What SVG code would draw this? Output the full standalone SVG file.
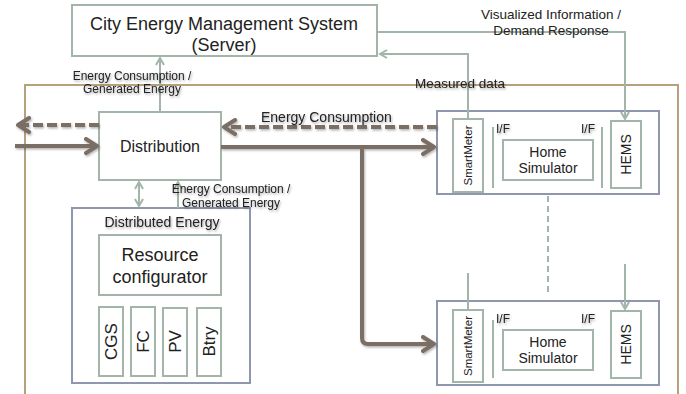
<svg xmlns="http://www.w3.org/2000/svg" width="686" height="394" viewBox="0 0 686 394">
<style>
text{font-family:"Liberation Sans",Arial,sans-serif;fill:#222}
.gbox{fill:#fff;stroke:#a3b5a8;stroke-width:2}
.bbox{fill:#fff;stroke:#8f96ae;stroke-width:2}
.gl{fill:none;stroke:#a3b5a8;stroke-width:2}
.br{fill:none;stroke:#7a6e65;stroke-width:4}
.brd{fill:none;stroke:#7a6e65;stroke-width:4;stroke-dasharray:10,4}
.lbl{font-size:12px;filter:url(#sh)}
.m{text-anchor:middle}
</style>
<defs>
<filter id="sh" x="-10%" y="-30%" width="130%" height="180%">
<feDropShadow dx="1" dy="1.5" stdDeviation="1" flood-color="#000" flood-opacity="0.35"/>
</filter>
<filter id="ash" x="-20%" y="-50%" width="140%" height="200%">
<feDropShadow dx="1" dy="1.5" stdDeviation="1" flood-color="#000" flood-opacity="0.3"/>
</filter>
<marker id="ga" markerWidth="10" markerHeight="10" refX="8" refY="5" orient="auto-start-reverse" markerUnits="userSpaceOnUse">
<path d="M1,1 L8,5 L1,9" fill="none" stroke="#a3b5a8" stroke-width="2"/>
</marker>
<marker id="ba" markerWidth="16" markerHeight="18" refX="13" refY="9" orient="auto-start-reverse" markerUnits="userSpaceOnUse">
<path d="M2,2 L13,9 L2,16" fill="none" stroke="#7a6e65" stroke-width="4" stroke-linecap="round" stroke-linejoin="round"/>
</marker>
</defs>
<rect width="686" height="394" fill="#fff"/>

<rect id="outer" x="25" y="85" width="653" height="320" fill="none" stroke="#b6a17c" stroke-width="2"/>

<g id="server">
<rect class="gbox" x="72" y="5" width="305" height="51"/>
<text class="m" x="224" y="30" font-size="18">City Energy Management System</text>
<text class="m" x="224" y="51" font-size="18">(Server)</text>
</g>

<g id="distribution">
<rect class="gbox" x="99" y="112" width="122" height="68"/>
<text class="m" x="160" y="152" font-size="16">Distribution</text>
</g>

<g id="distributed-energy">
<rect class="bbox" x="72" y="208" width="178" height="175"/>
<text class="m" x="162" y="227" font-size="14" filter="url(#sh)">Distributed Energy</text>
<rect class="gbox" x="99" y="235" width="122" height="60"/>
<text class="m" x="160" y="261" font-size="18">Resource</text>
<text class="m" x="160" y="283" font-size="18">configurator</text>
<g id="cgs"><rect class="gbox" x="99" y="307" width="24" height="69"/><text class="m" transform="translate(117,341.5) rotate(-90)" font-size="17">CGS</text></g>
<g id="fc"><rect class="gbox" x="131" y="307" width="24" height="69"/><text class="m" transform="translate(149,341.5) rotate(-90)" font-size="17">FC</text></g>
<g id="pv"><rect class="gbox" x="163" y="308" width="24" height="68"/><text class="m" transform="translate(181,341.5) rotate(-90)" font-size="17">PV</text></g>
<g id="btry"><rect class="gbox" x="197" y="308" width="24" height="68"/><text class="m" transform="translate(215,341.5) rotate(-90)" font-size="17">Btry</text></g>
</g>

<g id="home1">
<rect class="bbox" x="437" y="111" width="222" height="83"/>
<rect class="gbox" x="453" y="119" width="30" height="73"/>
<text class="m" transform="translate(472,155.5) rotate(-90)" font-size="11.5">SmartMeter</text>
<line class="gl" x1="493" y1="127" x2="493" y2="188"/>
<text x="496" y="133" font-size="12" filter="url(#sh)">I/F</text>
<rect class="gbox" x="503" y="140" width="90" height="40"/>
<text class="m" x="548" y="157" font-size="14">Home</text>
<text class="m" x="548" y="173" font-size="14">Simulator</text>
<text x="581" y="133" font-size="12" filter="url(#sh)">I/F</text>
<line class="gl" x1="602" y1="127" x2="602" y2="188"/>
<rect class="gbox" x="611" y="121" width="30" height="67"/>
<text class="m" transform="translate(631,154.5) rotate(-90)" font-size="14">HEMS</text>
</g>

<g id="home2">
<rect class="bbox" x="437" y="301" width="222" height="84"/>
<rect class="gbox" x="453" y="310" width="30" height="72"/>
<text class="m" transform="translate(472,346) rotate(-90)" font-size="11.5">SmartMeter</text>
<line class="gl" x1="493" y1="320" x2="493" y2="378"/>
<text x="496" y="323" font-size="12" filter="url(#sh)">I/F</text>
<rect class="gbox" x="503" y="330" width="90" height="40"/>
<text class="m" x="548" y="347" font-size="14">Home</text>
<text class="m" x="548" y="363" font-size="14">Simulator</text>
<text x="581" y="323" font-size="12" filter="url(#sh)">I/F</text>
<rect class="gbox" x="611" y="311" width="30" height="67"/>
<text class="m" transform="translate(631,344.5) rotate(-90)" font-size="14">HEMS</text>
</g>

<g id="connectors">
<line class="gl" x1="160" y1="112" x2="160" y2="58" marker-end="url(#ga)"/>
<line class="gl" x1="139" y1="182" x2="139" y2="206" marker-start="url(#ga)" marker-end="url(#ga)"/>
<line class="gl" x1="178" y1="208" x2="178" y2="182" marker-end="url(#ga)"/>
<polyline class="gl" points="468,119 468,54 380,54" marker-end="url(#ga)"/>
<polyline class="gl" points="377,32 625,32 625,119" marker-end="url(#ga)"/>
<line class="gl" x1="468" y1="273" x2="468" y2="310"/>
<line class="gl" x1="625" y1="264" x2="625" y2="309" marker-end="url(#ga)"/>
<line x1="548" y1="196" x2="548" y2="294" stroke="#a3b5a8" stroke-width="2" stroke-dasharray="6,4"/>
<g filter="url(#ash)">
<line class="brd" x1="99" y1="125" x2="18" y2="125" marker-end="url(#ba)"/>
<line class="br" x1="15" y1="146" x2="97" y2="146" marker-end="url(#ba)"/>
<line class="brd" x1="437" y1="127" x2="224" y2="127" marker-end="url(#ba)"/>
<line class="br" x1="221" y1="147" x2="434" y2="147" marker-end="url(#ba)"/>
<path class="br" d="M362,147 V338 Q362,344 368,344 H434" marker-end="url(#ba)"/>
</g>
</g>

<g id="labels">
<text class="lbl m" x="132" y="80">Energy Consumption /</text>
<text class="lbl m" x="132" y="93">Generated Energy</text>
<text class="lbl m" x="231" y="193">Energy Consumption /</text>
<text class="lbl m" x="231" y="207">Generated Energy</text>
<text x="261" y="122" font-size="14" filter="url(#sh)">Energy Consumption</text>
<text x="415" y="88" font-size="13.5" filter="url(#sh)">Measured data</text>
<text class="m" x="551" y="19" font-size="13.5">Visualized Information /</text>
<text class="m" x="551" y="35" font-size="13.5">Demand Response</text>
</g>
</svg>
